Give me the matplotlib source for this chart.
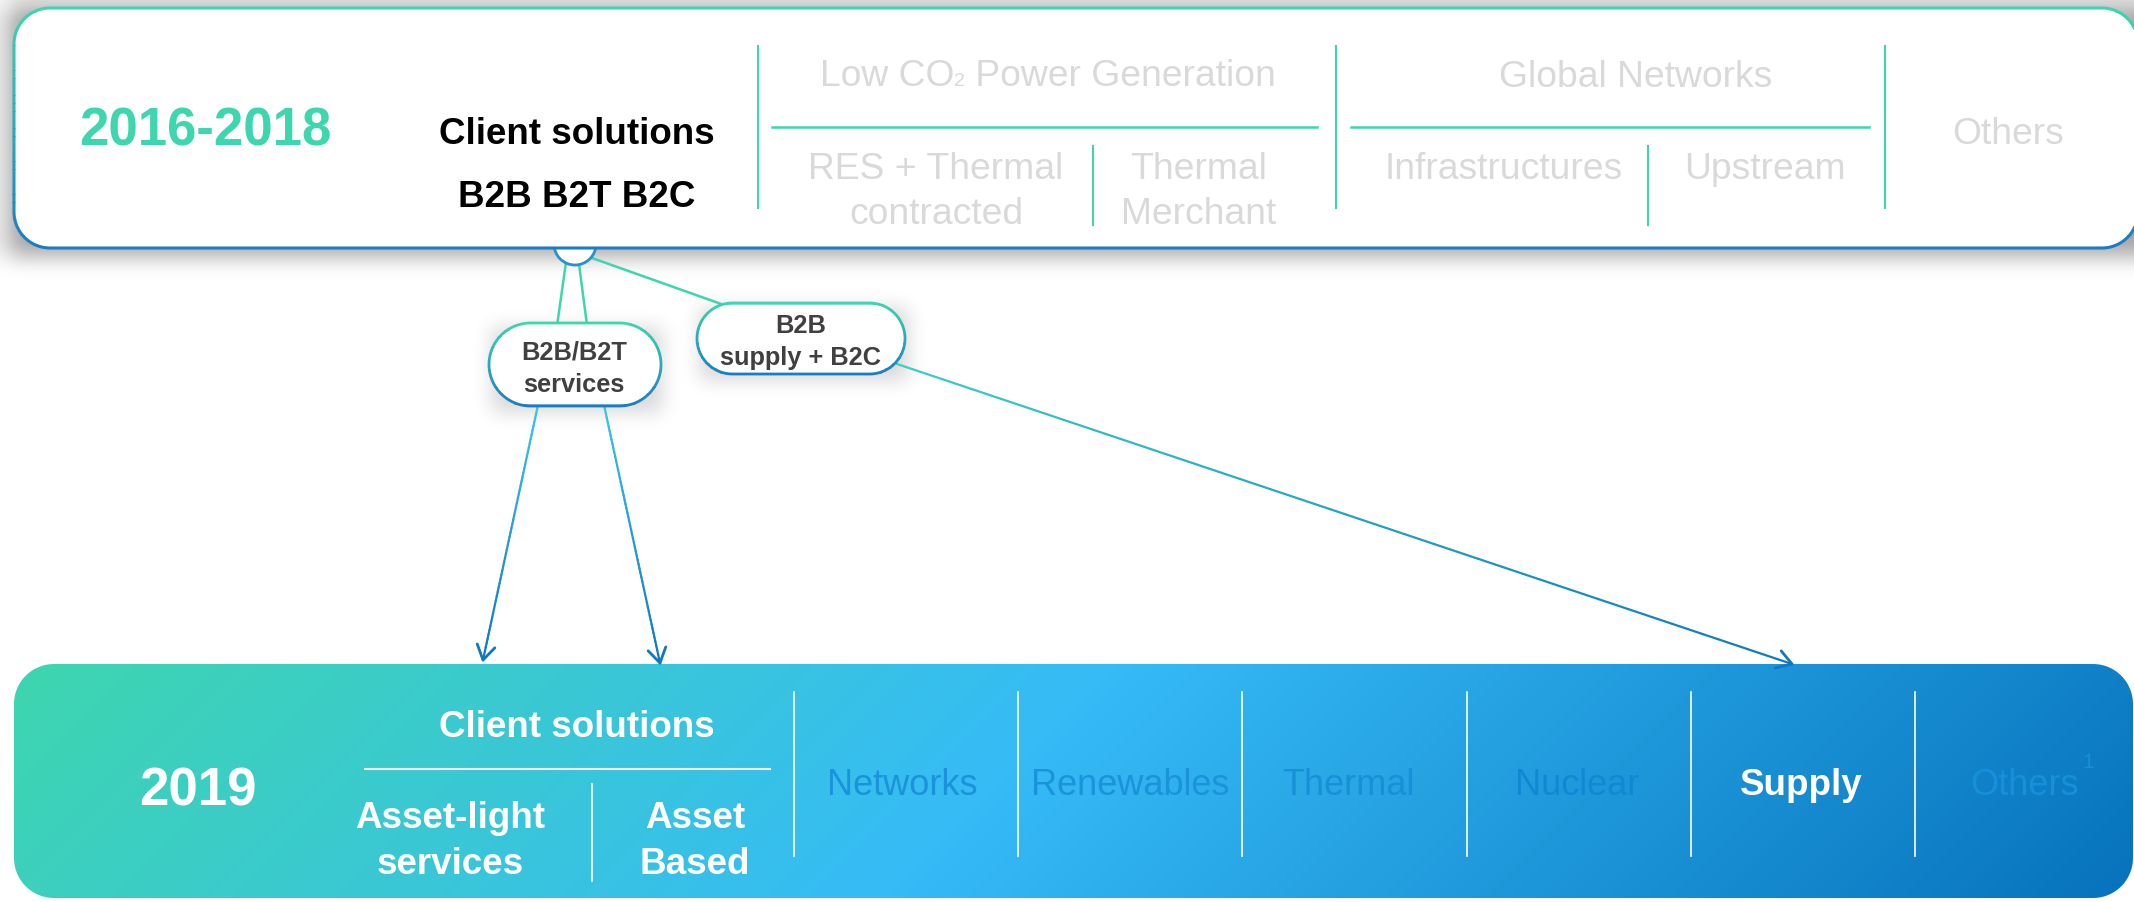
import numpy as np
import matplotlib.pyplot as plt
from matplotlib.patches import Polygon, Rectangle, Circle
from matplotlib.collections import LineCollection
from matplotlib.colors import to_rgb

plt.rcParams['font.family'] = ['Liberation Sans', 'DejaVu Sans']

# --- content of the diagram ---
old_period = '2016-2018'
old_client = ['Client solutions', 'B2B B2T B2C']
old_groups = ['Global Networks']
old_subs = ['RES + Thermal\ncontracted', 'Thermal\nMerchant', 'Infrastructures', 'Upstream']
old_other = 'Others'

new_period = '2019'
new_client = 'Client solutions'
new_client_subs = ['Asset-light\nservices', 'Asset\nBased']
new_segments = ['Networks', 'Renewables', 'Thermal', 'Nuclear', 'Supply', 'Others']
highlight = 'Supply'
flow_labels = ['B2B/B2T\nservices', 'B2B\nsupply + B2C']

W, H = 2134, 902
TEAL = '#3dd6ae'
BLUE = '#1a7cc4'
GREY_TXT = '#d9d9d9'
FAINT = ['#1a93da', '#1a93da', '#1790d8', '#1288d4', None, '#1690da']
PILL_TXT = '#404040'


def mix(c1, c2, t):
    a, b = np.array(to_rgb(c1)), np.array(to_rgb(c2))
    return tuple(a + (b - a) * t)


def blur1d(a, r, axis):
    pad = [(0, 0), (0, 0)]
    pad[axis] = (r + 1, r)
    p = np.pad(a, pad, mode='edge')
    c = np.cumsum(p, axis=axis)
    if axis == 0:
        return (c[2 * r + 1:] - c[:-2 * r - 1]) / (2 * r + 1)
    return (c[:, 2 * r + 1:] - c[:, :-2 * r - 1]) / (2 * r + 1)


def rrect(x, y, w, h, r, n=24):
    # rounded rectangle outline with true circular corners (y axis points down)
    r = min(r, w / 2, h / 2)
    pts = []
    for cx, cy, a0 in [(x + w - r, y + r, -90), (x + w - r, y + h - r, 0),
                       (x + r, y + h - r, 90), (x + r, y + r, 180)]:
        a = np.radians(np.linspace(a0, a0 + 90, n))
        pts += list(zip(cx + r * np.cos(a), cy + r * np.sin(a)))
    return np.array(pts)


def grad_border(ax, pts, c_top, c_bot, lw, z, n=30):
    y0, y1 = pts[:, 1].min() - 4, pts[:, 1].max() + 4
    x0, x1 = pts[:, 0].min() - 10, pts[:, 0].max() + 10
    for i in range(n):
        yb = y0 + (y1 - y0) * i / n
        band = Rectangle((x0, yb), x1 - x0, (y1 - y0) / n + 0.6, transform=ax.transData)
        p = Polygon(pts, closed=True, fc='none', ec=mix(c_top, c_bot, i / (n - 1)),
                    lw=lw, zorder=z, joinstyle='round')
        ax.add_patch(p)
        p.set_clip_path(band)


def grad_line(ax, p0, p1, c0, c1, lw, z, n=60):
    t = np.linspace(0, 1, n + 1)
    xs = p0[0] + (p1[0] - p0[0]) * t
    ys = p0[1] + (p1[1] - p0[1]) * t
    segs = [[(xs[i], ys[i]), (xs[i + 1], ys[i + 1])] for i in range(n)]
    cols = [mix(c0, c1, (i + 0.5) / n) for i in range(n)]
    ax.add_collection(LineCollection(segs, colors=cols, lw=lw, zorder=z, capstyle='round'))


def arrow_head(ax, p0, tip, color, size=17, ang=32):
    d = np.array(tip, float) - np.array(p0, float)
    d /= np.hypot(*d)
    for s in (1, -1):
        a = np.radians(ang * s)
        r = np.array([d[0] * np.cos(a) - d[1] * np.sin(a), d[0] * np.sin(a) + d[1] * np.cos(a)])
        q = np.array(tip) - size * r
        ax.plot([q[0], tip[0]], [q[1], tip[1]], color=color, lw=2, zorder=4,
                solid_capstyle='round')


def lines(ax, x, y0, txt, dy, **kw):
    for i, s in enumerate(txt.split('\n')):
        ax.text(x, y0 + i * dy, s, ha='center', va='baseline', **kw)


def soft(mask, r):
    for _ in range(3):
        mask = blur1d(blur1d(mask, r, 0), r, 1)
    return mask


fig = plt.figure(figsize=(21.34, 9.02), dpi=100)
ax = fig.add_axes([0, 0, 1, 1])
ax.set_xlim(0, W)
ax.set_ylim(H, 0)
ax.axis('off')

# soft shadows under the top box and the pills
m_box = np.zeros((H, W))
m_box[6:256, 8:W] = 1
m_pill = np.zeros((H, W))
m_pill[328:412, 492:662] = 1
m_pill[308:380, 700:908] = 1
rgba = np.zeros((H, W, 4))
rgba[..., 3] = np.clip(soft(m_box, 10) * 0.36 + soft(m_pill, 9) * 0.16, 0, 1)
ax.imshow(rgba, extent=(0, W, H, 0), origin='upper', zorder=0, interpolation='bilinear')

# ---------- top box (2016-2018) ----------
top_pts = rrect(14, 8, 2124, 240, 36)
ax.add_patch(Polygon(top_pts, closed=True, fc='white', ec='none', zorder=2))
grad_border(ax, top_pts, TEAL, BLUE, 2.2, 2.1)

ax.text(205, 146, old_period, ha='center', va='baseline', color=TEAL,
        fontsize=38, fontweight='bold', zorder=3)
lines(ax, 577, 144, '\n'.join(old_client), 63, color='black', fontsize=26.5,
      fontweight='bold', zorder=3)

for x, y0, y1 in [(758, 46, 208), (1093, 146, 225), (1336, 46, 208),
                  (1648, 146, 225), (1885, 46, 208)]:
    ax.plot([x, x], [y0, y1], color=TEAL, lw=1.5, zorder=3)
for x0, x1 in [(772, 1317), (1351, 1869)]:
    ax.plot([x0, x1], [127, 127], color=TEAL, lw=1.8, zorder=3)

# "Low CO2 Power Generation" with a small 2 on the baseline
t1 = ax.text(820, 86, 'Low CO', ha='left', va='baseline', color=GREY_TXT, fontsize=26.8, zorder=3)
t2 = ax.annotate('2', xy=(1, 86), xycoords=(t1, 'data'), ha='left', va='baseline',
                 color=GREY_TXT, fontsize=14, zorder=3)
ax.annotate(' Power Generation', xy=(1, 86), xycoords=(t2, 'data'), ha='left', va='baseline',
            color=GREY_TXT, fontsize=26.8, zorder=3)
ax.text(1636, 87, old_groups[0], ha='center', va='baseline', color=GREY_TXT,
        fontsize=26.8, zorder=3)
for (x, y), s in zip([(936, 179), (1199, 179), (1504, 179), (1765, 179)], old_subs):
    lines(ax, x, y, s, 45, color=GREY_TXT, fontsize=26.8, zorder=3)
ax.text(2008, 144, old_other, ha='center', va='baseline', color=GREY_TXT, fontsize=26.8, zorder=3)

# ---------- connector circle, pills and arrows ----------
ax.add_patch(Circle((575, 244), 21, fc='white', ec='#2a8fd0', lw=2, zorder=1.8))
for p0, p1 in [((566, 262), (557, 326)), ((579, 264), (587, 325)), ((592, 258), (724, 305))]:
    ax.plot([p0[0], p1[0]], [p0[1], p1[1]], color=TEAL, lw=1.8, zorder=1.5)

pills = [((489, 323), 172, 83, (574, 360)), ((697, 303), 208, 71, (801, 333))]
for (xy, w, h, (tx, ty)), lab in zip(pills, flow_labels):
    pts = rrect(xy[0], xy[1], w, h, h / 2)
    ax.add_patch(Polygon(pts, closed=True, fc='white', ec='none', zorder=3))
    grad_border(ax, pts, TEAL, BLUE, 2.0, 3.1, n=16)
    lines(ax, tx, ty, lab, 32, color=PILL_TXT, fontsize=18.3, fontweight='bold', zorder=4)

arrows = [((538, 405), (483, 660), '#3cc6e8'), ((604, 405), (660, 663), '#3cc6e8'),
          ((897, 364), (1792, 664), '#3dcfc4')]
for p0, tip, c0 in arrows:
    grad_line(ax, p0, tip, c0, '#0e78c4', 1.6, 2.5)
    arrow_head(ax, p0, tip, '#0e78c4')

# ---------- bottom box (2019) ----------
bx, by, bw, bh = 14, 664, 2119, 234
yy, xx = np.mgrid[0:bh, 0:bw]
s = (xx + yy) / (bw + bh)
stops = [(0.0, '#3ed6ae'), (0.47, '#36bbf7'), (1.0, '#0672bc')]
img = np.zeros((bh, bw, 3))
for (s0, c0), (s1, c1) in zip(stops[:-1], stops[1:]):
    m = (s >= s0) & (s <= s1)
    t = ((s - s0) / (s1 - s0))[m]
    a, b = np.array(to_rgb(c0)), np.array(to_rgb(c1))
    img[m] = a + (b - a) * t[:, None]
clip = Polygon(rrect(bx, by, bw, bh, 40), closed=True, fc='none', ec='none',
               transform=ax.transData)
ax.add_patch(clip)
im = ax.imshow(img, extent=(bx, bx + bw, by + bh, by), origin='upper',
               zorder=1, interpolation='bilinear')
im.set_clip_path(clip)

ax.text(198, 805, new_period, ha='center', va='baseline', color='white',
        fontsize=38, fontweight='bold', zorder=3)
ax.text(577, 737, new_client, ha='center', va='baseline', color='white',
        fontsize=26.5, fontweight='bold', zorder=3)
ax.plot([365, 770], [769, 769], color='white', lw=1.5, zorder=3)
ax.plot([592, 592], [784, 881], color='white', lw=1.2, zorder=3)
for x, lab in zip([450, 695], new_client_subs):
    lines(ax, x, 828, lab, 46, color='white', fontsize=26.5, fontweight='bold', zorder=3)

for x in [794, 1018, 1242, 1467, 1691, 1915]:
    ax.plot([x, x], [692, 856], color='white', lw=1.2, zorder=3)
seg_x = [902, 1130, 1348, 1577, 1801, 2025]
for x, lab, col in zip(seg_x, new_segments, FAINT):
    if lab == highlight:
        ax.text(x, 795, lab, ha='center', va='baseline', color='white', fontsize=26.5,
                fontweight='bold', zorder=3)
    else:
        ax.text(x, 795, lab, ha='center', va='baseline', color=col, fontsize=26, zorder=3)
ax.text(2088, 768, '1', ha='center', va='baseline', color=FAINT[-1], fontsize=15, zorder=3)

fig.savefig('out.png', dpi=100)
